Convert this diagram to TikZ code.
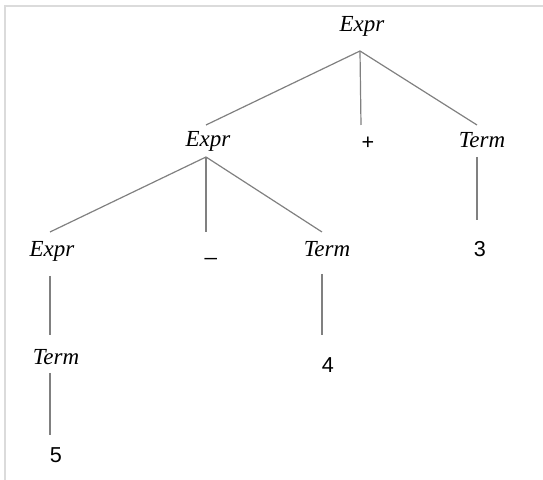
\documentclass[tikz,border=0pt]{standalone}
\usepackage{fontspec}
\setmainfont{Liberation Serif}
\newfontfamily\numfont{Liberation Sans}
\usetikzlibrary{positioning}

\tikzset{
  sym/.style={anchor=base, inner sep=0pt, font=\fontsize{11.5}{13}\selectfont\itshape},
  tok/.style={anchor=base, inner sep=0pt, font=\fontsize{10.8}{12}\selectfont\numfont},
  branch/.style={draw=black!50, line width=0.6pt},
  frame/.style={draw=black!14, line width=0.6pt}
}

\begin{document}
\begin{tikzpicture}[x=0.5pt,y=-0.5pt]

\useasboundingbox (0,0) rectangle (543,480);

% page frame (top and left edge only)
\draw[frame] (5,480) -- (5,6) -- (543,6);

% ========================
% NODES (placed at their baselines)
% ========================

% level 1
\node[sym] (root) at (362,32) {Expr};

% level 2
\node[sym] (expr) at (208,147) {Expr};
\node[tok] (plus) at (368,150) {+};
\node[sym] (term) at (482,148) {Term};

% level 3
\node[sym] (exprl) at (52,257) {Expr};
\node[tok] (minus) at (211,256) {\_};
\node[sym] (termm) at (327,257) {Term};
\node[tok] (three) at (480,257) {3};

% level 4
\node[sym] (termb) at (56,365) {Term};
\node[tok] (four) at (328,373) {4};

% level 5
\node[tok] (five) at (56,463) {5};

% ========================
% BRANCHES
% ========================

% root
\draw[branch] ([shift={(-2,19)}]root.base) -- ([shift={(-2,-22)}]expr.base);
\draw[branch] ([shift={(-2,19)}]root.base) -- ([shift={(-7,-25)}]plus.base);
\draw[branch] ([shift={(-2,19)}]root.base) -- ([shift={(-5,-23)}]term.base);

% Expr -> Expr - Term
\draw[branch] ([shift={(-2,10)}]expr.base) -- ([shift={(-2,-25)}]exprl.base);
\draw[branch] ([shift={(-2,10)}]expr.base) -- ([shift={(-5,-24)}]minus.base);
\draw[branch] ([shift={(-2,10)}]expr.base) -- ([shift={(-5,-25)}]termm.base);

% Term -> 3
\draw[branch] ([shift={(-5,9)}]term.base) -- ([shift={(-3,-37)}]three.base);

% Expr -> Term -> 5
\draw[branch] ([shift={(-2,19)}]exprl.base) -- ([shift={(-6,-30)}]termb.base);
\draw[branch] ([shift={(-6,8)}]termb.base) -- ([shift={(-6,-28)}]five.base);

% Term -> 4
\draw[branch] ([shift={(-5,17)}]termm.base) -- ([shift={(-6,-38)}]four.base);

\end{tikzpicture}
\end{document}
